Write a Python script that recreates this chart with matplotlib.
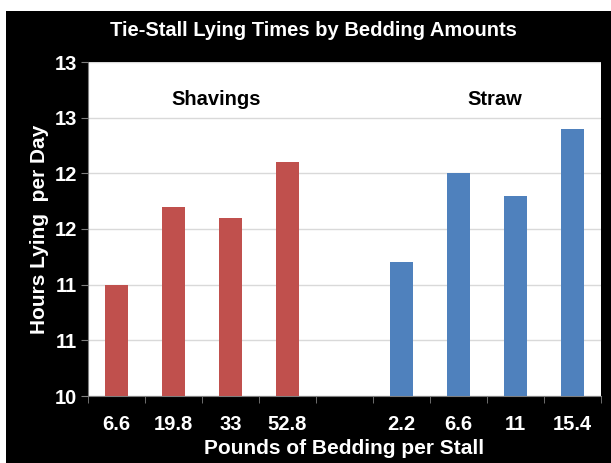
import numpy as np
import matplotlib
matplotlib.use("Agg")
import matplotlib.pyplot as plt
from matplotlib.patches import Rectangle
from matplotlib.ticker import FuncFormatter, MultipleLocator
import math

plt.rcParams['font.family'] = ['Liberation Sans', 'DejaVu Sans']
plt.rcParams['font.weight'] = 'bold'

# pounds of bedding per stall and hours lying per day
shavings_lbs = ["6.6", "19.8", "33", "52.8"]
shavings_hours = [11.0, 11.7, 11.6, 12.1]
straw_lbs = ["2.2", "6.6", "11", "15.4"]
straw_hours = [11.2, 12.0, 11.8, 12.4]

red = "#C0504D"
blue = "#4F81BD"

fig = plt.figure(figsize=(6.11, 4.63), dpi=100, facecolor="white")
# black panel behind everything
fig.patches.append(Rectangle((6/611, 0), 1, (463-11)/463, transform=fig.transFigure,
                             facecolor="black", edgecolor="none", zorder=-10))

ax = fig.add_axes([88/611, (463-396)/463, 513/611, (396-62)/463])
ax.set_facecolor("white")

x_sh = np.arange(len(shavings_lbs))
x_st = np.arange(len(straw_lbs)) + len(shavings_lbs) + 1
ax.bar(x_sh, np.array(shavings_hours) - 10, bottom=10, width=0.4, color=red, zorder=3)
ax.bar(x_st, np.array(straw_hours) - 10, bottom=10, width=0.4, color=blue, zorder=3)

ax.set_xlim(-0.5, 8.5)
ax.set_ylim(10, 13)
ax.yaxis.set_major_locator(MultipleLocator(0.5))
# labels rounded half up, so 10.5 shows as 11
ax.yaxis.set_major_formatter(FuncFormatter(lambda v, p: str(int(math.floor(v + 0.5)))))
ax.grid(axis="y", color="#D9D9D9", lw=1, zorder=0)

ax.set_xticks(list(x_sh) + [4] + list(x_st))
ax.set_xticklabels(shavings_lbs + [""] + straw_lbs)
ax.set_xticks(np.arange(-0.5, 9, 1), minor=True)
ax.tick_params(axis="x", which="major", length=0, pad=14)
ax.tick_params(axis="x", which="minor", length=5)
ax.tick_params(axis="y", length=5, pad=3)
ax.tick_params(which="both", color="#7F7F7F", labelcolor="white", labelsize=14.5)

for s in ["top", "right"]:
    ax.spines[s].set_visible(False)
for s in ["left", "bottom"]:
    ax.spines[s].set_color("#7F7F7F")

ax.text(1.74, 12.66, "Shavings", ha="center", va="center", fontsize=14.5, fontweight="bold")
ax.text(6.63, 12.66, "Straw", ha="center", va="center", fontsize=14.5, fontweight="bold")

ax.set_ylabel("Hours Lying  per Day", color="white", fontsize=15, fontweight="bold", labelpad=4)
ax.set_xlabel("Pounds of Bedding per Stall", color="white", fontsize=15, fontweight="bold", labelpad=3)
fig.text(313/611, 1 - 31/463, "Tie-Stall Lying Times by Bedding Amounts", color="white",
         ha="center", va="center", fontsize=14.5, fontweight="bold")

fig.savefig("out.png", dpi=100, facecolor="white")
